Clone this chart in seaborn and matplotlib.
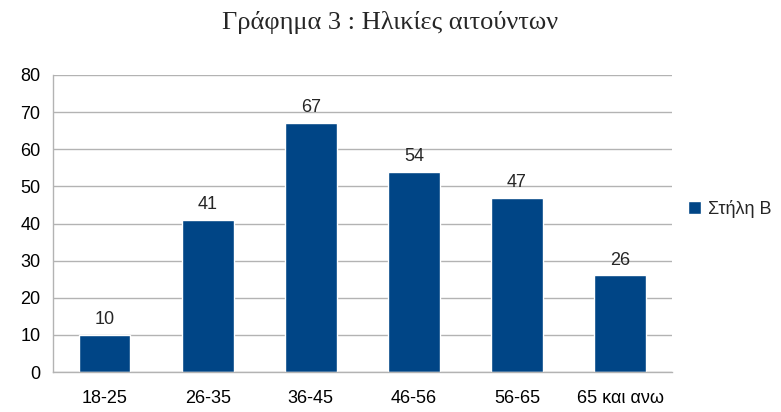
import pandas as pd
import matplotlib.pyplot as plt
import seaborn as sns

# data
age_groups = ["18-25", "26-35", "36-45", "46-56", "56-65", "65 και ανω"]
counts = [10, 41, 67, 54, 47, 26]
series_name = "Στήλη Β"

BAR_COLOR = "#004586"
GRID_COLOR = "#b3b3b3"

sns.set_theme(style="white")
plt.rcParams["font.family"] = ["Liberation Sans", "DejaVu Sans"]

df = pd.DataFrame({"age": age_groups, "count": counts, "series": series_name})

fig = plt.figure(figsize=(7.81, 4.12), dpi=100)
ax = fig.add_axes([0.068, 0.097, 0.792, 0.721])

sns.barplot(data=df, x="age", y="count", hue="series", palette=[BAR_COLOR],
            width=0.5, saturation=1, ax=ax, legend=True)

ax.set_ylim(0, 80)
ax.set_xlim(-0.5, len(age_groups) - 0.5)
ax.set_yticks(range(0, 81, 10))
ax.yaxis.grid(True, color=GRID_COLOR, linewidth=1)
ax.set_axisbelow(True)

# tick marks between categories, labels centred
ax.set_xticks([i - 0.5 for i in range(len(age_groups) + 1)], minor=True)
ax.tick_params(axis="x", which="major", length=0, labelsize=13, pad=13)
ax.tick_params(axis="x", which="minor", length=6, color=GRID_COLOR, width=1)
ax.tick_params(axis="y", length=6, color=GRID_COLOR, width=1, labelsize=13, pad=3)
ax.tick_params(axis="both", labelcolor="black")

for side in ["top", "right"]:
    ax.spines[side].set_visible(False)
for side in ["left", "bottom"]:
    ax.spines[side].set_color(GRID_COLOR)
    ax.spines[side].set_linewidth(1)

ax.set_xlabel("")
ax.set_ylabel("")

for container in ax.containers:
    ax.bar_label(container, padding=5, fontsize=13)

ax.legend(loc="center left", bbox_to_anchor=(1.0, 0.55), frameon=False,
          fontsize=13, handlelength=0.7, handleheight=0.7, handletextpad=0.4)

fig.text(0.5, 0.945, "Γράφημα 3 : Ηλικίες αιτούντων", ha="center", va="center",
         fontsize=19, family=["Liberation Serif", "DejaVu Serif"])

fig.savefig("out.png", dpi=100)
